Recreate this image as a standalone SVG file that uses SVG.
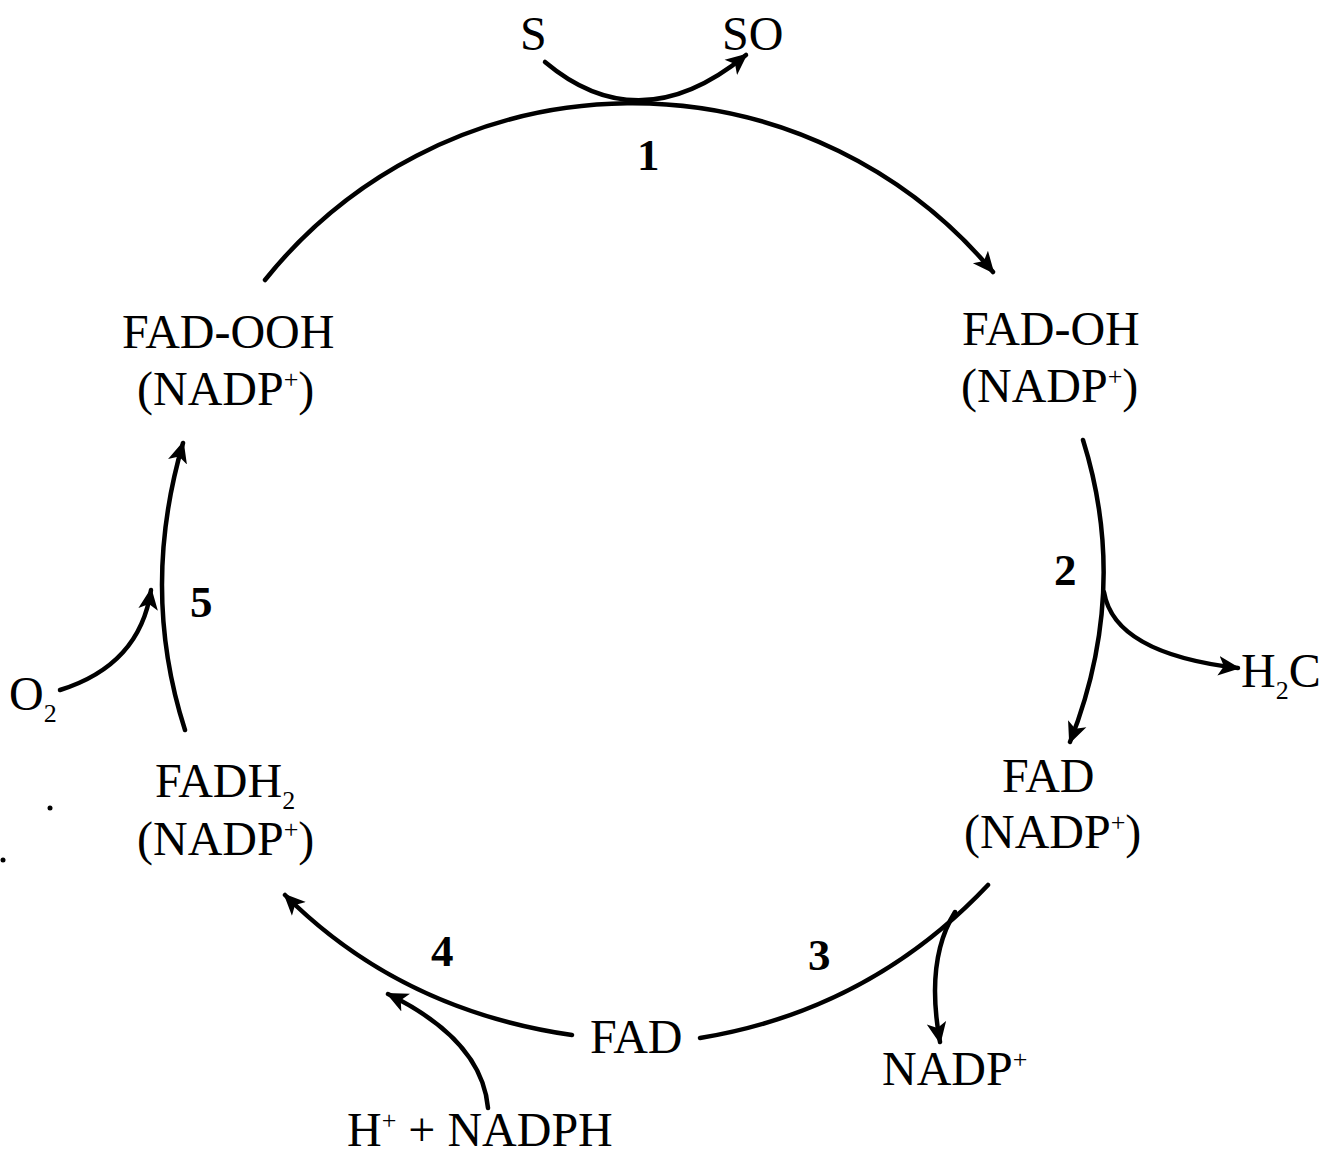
<svg xmlns="http://www.w3.org/2000/svg" width="1326" height="1155" viewBox="0 0 1326 1155">
<defs>
<marker id="ah" markerUnits="userSpaceOnUse" markerWidth="24" markerHeight="22" viewBox="0 0 22 20" refX="18" refY="10" orient="auto">
<path d="M0,1 L20,10 L0,19 L5,10 z" fill="#000"/>
</marker>
<style>
.t{font-family:"Liberation Serif","Times New Roman",serif;font-size:48px;fill:#000}
.n{font-family:"Liberation Serif","Times New Roman",serif;font-size:45px;font-weight:bold;fill:#000}
.sup{font-size:26px}
.c{fill:none;stroke:#000;stroke-width:4.5;stroke-linecap:round}
</style>
</defs>
<rect width="1326" height="1155" fill="#fff"/>
<g id="connectors">
<path class="c" d="M265,280 A470,470 0 0 1 993,272" marker-end="url(#ah)"/>
<path class="c" d="M545,62 Q640,142 746,55" marker-end="url(#ah)"/>
<line x1="641" y1="98" x2="641" y2="104" stroke="#000" stroke-width="4"/>
<path class="c" d="M1083,440 Q1130,590 1070,742" marker-end="url(#ah)"/>
<path class="c" d="M1104,592 C1112,640 1170,660 1238,668" marker-end="url(#ah)"/>
<path class="c" d="M988,885 Q870,1010 700,1038"/>
<path class="c" d="M955,912 Q925,960 940,1042" marker-end="url(#ah)"/>
<path class="c" d="M572,1035 Q400,1010 285,895" marker-end="url(#ah)"/>
<path class="c" d="M488,1108 Q482,1040 388,994" marker-end="url(#ah)"/>
<path class="c" d="M185,730 Q140,590 183,443" marker-end="url(#ah)"/>
<path class="c" d="M60,690 Q140,665 151,590" marker-end="url(#ah)"/>
</g>
<g id="S"><text class="t" x="520" y="50">S</text></g>
<g id="SO"><text class="t" x="722" y="50">SO</text></g>
<g id="step1"><text class="n" x="637" y="170">1</text></g>
<g id="FAD-OOH"><text class="t" x="122" y="348">FAD-OOH</text><text class="t" x="137" y="405">(NADP<tspan class="sup" dy="-17">+</tspan><tspan dy="17">)</tspan></text></g>
<g id="FAD-OH"><text class="t" x="962" y="345">FAD-OH</text><text class="t" x="961" y="402">(NADP<tspan class="sup" dy="-17">+</tspan><tspan dy="17">)</tspan></text></g>
<g id="step2"><text class="n" x="1054" y="585">2</text></g>
<g id="H2C"><text class="t" x="1241" y="687">H<tspan class="sup" dy="12">2</tspan><tspan dy="-12">C</tspan></text></g>
<g id="FAD-NADP"><text class="t" x="1002" y="792">FAD</text><text class="t" x="964" y="848">(NADP<tspan class="sup" dy="-17">+</tspan><tspan dy="17">)</tspan></text></g>
<g id="step3"><text class="n" x="808" y="970">3</text></g>
<g id="NADP"><text class="t" x="882" y="1085">NADP<tspan class="sup" dy="-17">+</tspan></text></g>
<g id="FAD"><text class="t" x="590" y="1053">FAD</text></g>
<g id="step4"><text class="n" x="431" y="966">4</text></g>
<g id="NADPH"><text class="t" x="347" y="1146">H<tspan class="sup" dy="-17">+</tspan><tspan dy="17"> + NADPH</tspan></text></g>
<g id="FADH2"><text class="t" x="155" y="797">FADH<tspan class="sup" dy="12">2</tspan></text><text class="t" x="137" y="855">(NADP<tspan class="sup" dy="-17">+</tspan><tspan dy="17">)</tspan></text></g>
<g id="step5"><text class="n" x="190" y="617">5</text></g>
<g id="O2"><text class="t" x="9" y="710">O<tspan class="sup" dy="12">2</tspan></text></g>
<circle cx="50" cy="808" r="2.5" fill="#000"/>
<circle cx="3" cy="860" r="2.5" fill="#000"/>
</svg>
